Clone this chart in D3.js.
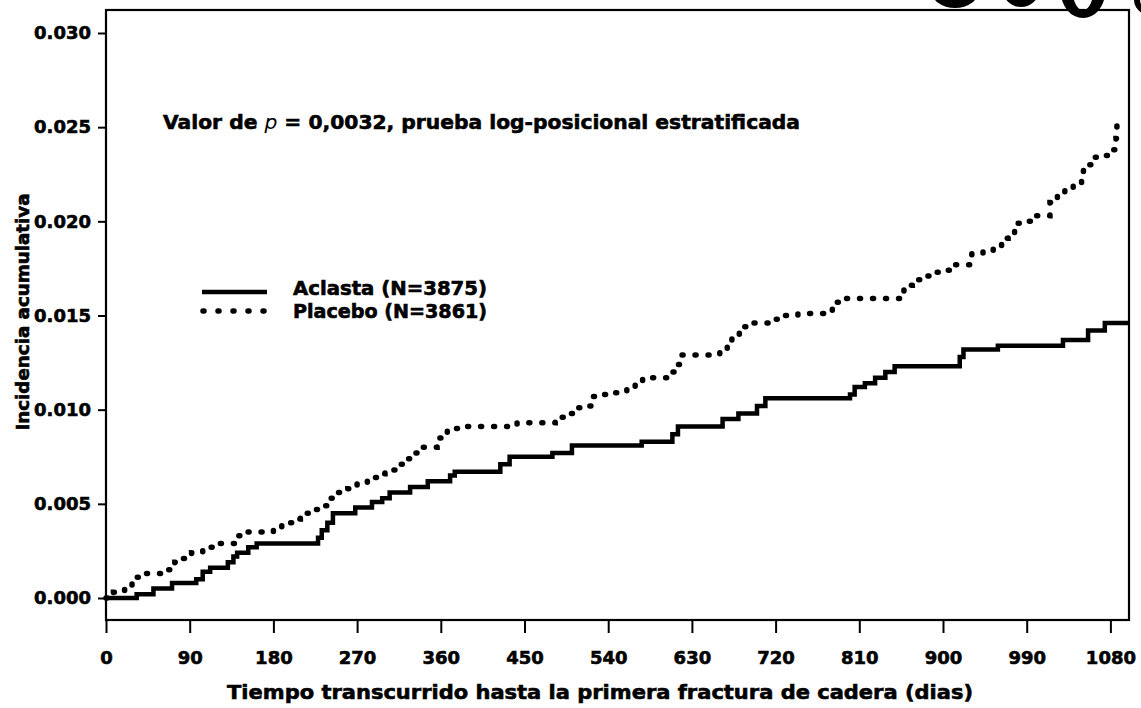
<!DOCTYPE html>
<html>
<head>
<meta charset="utf-8">
<script src="https://cdn.jsdelivr.net/npm/d3@7"></script>
<style>
  html, body { margin: 0; padding: 0; background: #fff; }
  svg { display: block; }
  text { font-family: "DejaVu Sans", "Liberation Sans", Arial, sans-serif; font-weight: bold; fill: #000; stroke: #000; stroke-width: 0.6px; }
</style>
</head>
<body>
<svg id="chart" width="1141" height="708"></svg>
<script>
// ---- data ----
const aclastaDays = [0, 33, 51, 71, 97, 104, 112, 131, 137, 141, 153, 162, 228, 232, 238, 244, 268, 286, 297, 305,
  327, 346, 370, 375, 424, 434, 480, 501, 576, 609, 615, 663, 680, 700, 709, 800, 805, 816, 827, 838,
  848, 918, 922, 959, 1029, 1056, 1074, 1100];
const aclastaValues = [0, 0.0002, 0.0005, 0.0008, 0.0010, 0.0014, 0.0016, 0.0019, 0.0022, 0.0024, 0.0027, 0.0029, 0.0032, 0.0036, 0.0040, 0.0045, 0.0048, 0.0051, 0.0053, 0.0056,
  0.0059, 0.0062, 0.0065, 0.0067, 0.0071, 0.0075, 0.0077, 0.0081, 0.0083, 0.0087, 0.0091, 0.0095, 0.0098, 0.0102, 0.0106, 0.0108, 0.0112, 0.0114, 0.0117, 0.0120,
  0.0123, 0.0128, 0.0132, 0.0134, 0.0137, 0.0142, 0.0146, 0.0146];

const placeboDays = [0, 8, 20, 28, 39, 63, 74, 83, 92, 104, 115, 139, 152, 180, 189, 200, 209, 219, 228, 239,
  249, 260, 270, 281, 291, 300, 311, 322, 332, 341, 356, 359, 367, 381, 442, 483, 494, 502, 516, 524,
  535, 547, 560, 569, 577, 604, 615, 617, 660, 668, 673, 681, 692, 719, 730, 744, 775, 781, 789, 858,
  867, 877, 889, 903, 912, 931, 943, 954, 963, 970, 977, 990, 999, 1015, 1015, 1023, 1031, 1040, 1049, 1051,
  1060, 1074, 1083, 1086, 1087];
const placeboValues = [0, 0.0003, 0.0005, 0.0011, 0.0013, 0.0015, 0.0019, 0.0021, 0.0024, 0.0027, 0.0029, 0.0033, 0.0035, 0.0036, 0.0040, 0.0042, 0.0045, 0.0047, 0.0049, 0.0053,
  0.0056, 0.0058, 0.0061, 0.0064, 0.0066, 0.0068, 0.0071, 0.0074, 0.0077, 0.0080, 0.0081, 0.0085, 0.0090, 0.0091, 0.0093, 0.0096, 0.0098, 0.0101, 0.0102, 0.0107,
  0.0108, 0.0109, 0.0111, 0.0115, 0.0117, 0.0120, 0.0124, 0.0129, 0.0131, 0.0135, 0.0140, 0.0144, 0.0146, 0.0148, 0.0150, 0.0151, 0.0152, 0.0157, 0.0159, 0.0166,
  0.0169, 0.0171, 0.0173, 0.0174, 0.0177, 0.0183, 0.0184, 0.0187, 0.0191, 0.0194, 0.0199, 0.0200, 0.0203, 0.0204, 0.0210, 0.0214, 0.0218, 0.0220, 0.0224, 0.0230,
  0.0234, 0.0235, 0.0238, 0.0244, 0.0251];

const xTicks = [0, 90, 180, 270, 360, 450, 540, 630, 720, 810, 900, 990, 1080];
const yTicks = [0.000, 0.005, 0.010, 0.015, 0.020, 0.025, 0.030];

const seriesNames = ["Aclasta (N=3875)", "Placebo (N=3861)"];
const annotationParts = ["Valor de ", "p", " = 0,0032, prueba log-posicional estratificada"];
const xTitle = "Tiempo transcurrido hasta la primera fractura de cadera (dias)";
const yTitle = "Incidencia acumulativa";

// ---- layout ----
const svg = d3.select("#chart");
const frame = { left: 106, right: 1129, top: 10, bottom: 620 };

const x = d3.scaleLinear().domain([0, 1100]).range([frame.left, frame.right]);
const y = d3.scaleLinear().domain([0, 0.030]).range([598, 33]);

// frame
svg.append("rect")
  .attr("x", frame.left).attr("y", frame.top)
  .attr("width", frame.right - frame.left).attr("height", frame.bottom - frame.top)
  .attr("fill", "none").attr("stroke", "#000").attr("stroke-width", 2.2);

// y axis
const yAxis = svg.append("g")
  .attr("transform", `translate(${frame.left},0)`)
  .call(d3.axisLeft(y).tickValues(yTicks).tickFormat(d3.format(".3f")).tickSize(8).tickPadding(7));
yAxis.select(".domain").remove();
yAxis.selectAll(".tick line").attr("stroke", "#000").attr("stroke-width", 2);
yAxis.selectAll(".tick text").attr("font-size", 18).attr("font-family", null).attr("font-weight", "bold");

// x axis
const xAxis = svg.append("g")
  .attr("transform", `translate(0,${frame.bottom})`)
  .call(d3.axisBottom(x).tickValues(xTicks).tickFormat(d3.format("d")).tickSize(13).tickPadding(18));
xAxis.select(".domain").remove();
xAxis.selectAll(".tick line").attr("stroke", "#000").attr("stroke-width", 2);
xAxis.selectAll(".tick text").attr("font-size", 18).attr("font-family", null).attr("font-weight", "bold");

// lines
const line = d3.line()
  .x(d => x(d[0]))
  .y(d => y(d[1]))
  .curve(d3.curveStepAfter);

const aclasta = aclastaDays.map((d, i) => [d, aclastaValues[i]]);
const placebo = placeboDays.map((d, i) => [d, placeboValues[i]]);

svg.append("path")
  .datum(aclasta)
  .attr("d", line)
  .attr("fill", "none").attr("stroke", "#000")
  .attr("stroke-width", 4.5).attr("stroke-linejoin", "miter");

const dotStyle = { width: 5.5, dash: "1 12" };
svg.append("path")
  .datum(placebo)
  .attr("d", line)
  .attr("fill", "none").attr("stroke", "#000")
  .attr("stroke-width", dotStyle.width).attr("stroke-linecap", "round")
  .attr("stroke-dasharray", dotStyle.dash);

// annotation
const ann = svg.append("text").attr("x", 163).attr("y", 129).attr("font-size", 20)
  .attr("textLength", 637).attr("lengthAdjust", "spacingAndGlyphs");
ann.append("tspan").text(annotationParts[0]);
ann.append("tspan").attr("font-style", "italic").attr("font-weight", "normal").attr("stroke-width", 0).text(annotationParts[1]);
ann.append("tspan").text(annotationParts[2]);

// legend
const legend = svg.append("g");
legend.append("line")
  .attr("x1", 202).attr("x2", 267).attr("y1", 292).attr("y2", 292)
  .attr("stroke", "#000").attr("stroke-width", 4.5);
legend.append("line")
  .attr("x1", 203).attr("x2", 268).attr("y1", 311).attr("y2", 311)
  .attr("stroke", "#000").attr("stroke-width", dotStyle.width)
  .attr("stroke-linecap", "round").attr("stroke-dasharray", "1 14");
legend.append("text").attr("x", 293).attr("y", 295).attr("font-size", 19)
  .attr("textLength", 194).attr("lengthAdjust", "spacingAndGlyphs").text(seriesNames[0]);
legend.append("text").attr("x", 293).attr("y", 318).attr("font-size", 19)
  .attr("textLength", 194).attr("lengthAdjust", "spacingAndGlyphs").text(seriesNames[1]);

// axis titles
svg.append("text")
  .attr("x", 600).attr("y", 699)
  .attr("text-anchor", "middle").attr("font-size", 20)
  .attr("textLength", 746).attr("lengthAdjust", "spacingAndGlyphs")
  .text(xTitle);
svg.append("text")
  .attr("transform", "translate(29,312) rotate(-90)")
  .attr("text-anchor", "middle").attr("font-size", 18)
  .attr("textLength", 237).attr("lengthAdjust", "spacingAndGlyphs")
  .text(yTitle);

// cropped dark shapes at the top-right edge of the scan
const blobs = svg.append("g").attr("fill", "#000");
blobs.append("ellipse").attr("cx", 955).attr("cy", -10).attr("rx", 24).attr("ry", 18);
blobs.append("ellipse").attr("cx", 1021).attr("cy", -10).attr("rx", 18).attr("ry", 17);
blobs.append("path")
  .attr("fill-rule", "evenodd")
  .attr("d", "M1061,-8 a22,26 0 1,0 44,0 a22,26 0 1,0 -44,0 Z M1073,-8 a10,18 0 1,0 20,0 a10,18 0 1,0 -20,0 Z");
blobs.append("ellipse").attr("cx", 1162).attr("cy", 0).attr("rx", 28).attr("ry", 19);
blobs.append("ellipse").attr("cx", 1162).attr("cy", 0).attr("rx", 22).attr("ry", 14).attr("fill", "#fff");
</script>
</body>
</html>
